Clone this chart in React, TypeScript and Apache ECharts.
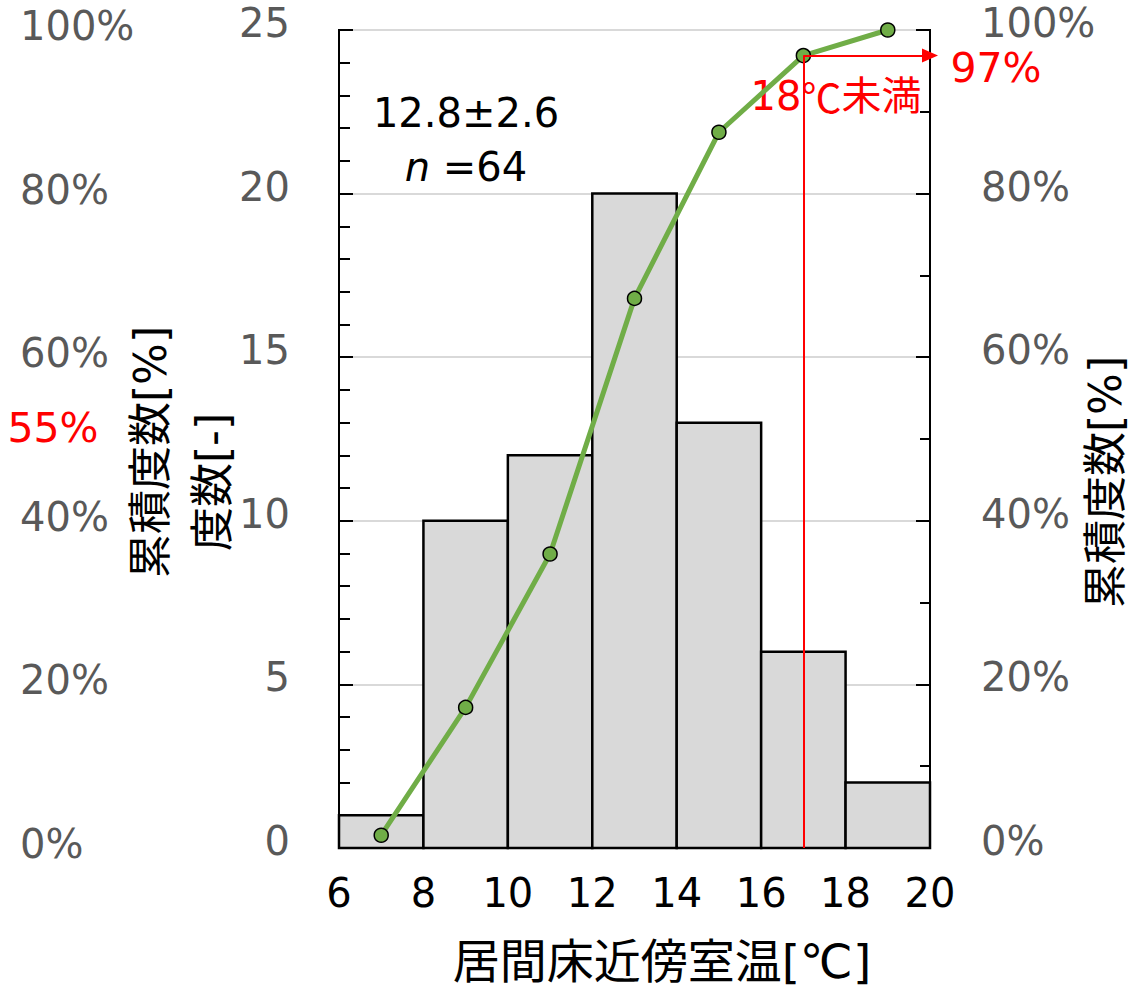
import React, { useEffect, useRef } from "react";
import * as echarts from "echarts";

const binEdges = [6, 8, 10, 12, 14, 16, 18, 20];
const counts = [1, 10, 12, 20, 13, 6, 2];
const cumX = [7, 9, 11, 13, 15, 17, 19];
const cumPct = [1.5625, 17.1875, 35.9375, 67.1875, 87.5, 96.875, 100];
const freqTicks = { min: 0, max: 25, interval: 5 };
const pctTicks = { min: 0, max: 100, interval: 20 };
const thresholdX = 17;
const thresholdPct = 96.875;

const FONT = "'DejaVu Sans', 'Noto Sans CJK JP', sans-serif";
const CJK = "'Noto Sans CJK JP', sans-serif";
const GRAY = "#595959";

const shifted = (pad: number, suffix = "") => ({
  formatter: (v: number) => `{a|${v}${suffix}}`,
  rich: { a: { color: GRAY, fontSize: 40, fontFamily: FONT, padding: [0, 0, pad, 0] } },
});

export default function App() {
  const ref = useRef<HTMLDivElement>(null);
  useEffect(() => {
    if (!ref.current) return;
    const chart = echarts.init(ref.current, undefined, { renderer: "svg" });
    const barData = counts.map((c, i) => [binEdges[i], binEdges[i + 1], c]);
    const lineData = cumX.map((x, i) => [x, cumPct[i]]);
    chart.setOption({
      animation: false,
      textStyle: { fontFamily: FONT },
      grid: {
        left: 339,
        right: 204,
        top: 30,
        bottom: 141,
        show: true,
        borderColor: "#000",
        borderWidth: 2,
        backgroundColor: "transparent",
      },
      xAxis: {
        type: "value",
        min: 6,
        max: 20,
        interval: 2,
        axisLine: { show: true, lineStyle: { color: "#000", width: 2 } },
        axisTick: { show: false },
        splitLine: { show: false },
        axisLabel: { color: "#000", fontSize: 40, fontFamily: FONT, margin: 25 },
      },
      yAxis: [
        {
          type: "value",
          position: "left",
          ...freqTicks,
          axisLine: { show: true, lineStyle: { color: "#000", width: 2 } },
          axisTick: { show: true, inside: true, length: 14, lineStyle: { color: "#000", width: 2 } },
          minorTick: { show: true, splitNumber: 5, length: 11, lineStyle: { color: "#000", width: 2 } },
          splitLine: { show: true, lineStyle: { color: "#d9d9d9", width: 2 } },
          axisLabel: {
            color: GRAY,
            fontSize: 40,
            fontFamily: FONT,
            margin: 49,
            ...shifted(14),
          },
        },
        {
          type: "value",
          position: "left",
          ...pctTicks,
          axisLine: { show: false },
          axisTick: { show: false },
          splitLine: { show: false },
          axisLabel: {
            color: GRAY,
            fontSize: 40,
            fontFamily: FONT,
            margin: 319,
            align: "left",
            ...shifted(8, "%"),
          },
        },
        {
          type: "value",
          position: "right",
          ...pctTicks,
          axisLine: { show: true, lineStyle: { color: "#000", width: 2 } },
          axisTick: { show: true, inside: true, length: 14, lineStyle: { color: "#000", width: 2 } },
          minorTick: { show: true, splitNumber: 2, length: 10, lineStyle: { color: "#000", width: 2 } },
          splitLine: { show: false },
          axisLabel: {
            color: GRAY,
            fontSize: 40,
            fontFamily: FONT,
            margin: 51,
            align: "left",
            ...shifted(14, "%"),
          },
        },
      ],
      series: [
        {
          type: "custom",
          xAxisIndex: 0,
          yAxisIndex: 0,
          data: barData,
          encode: { x: [0, 1], y: 2 },
          renderItem: (params: any, api: any) => {
            const p0 = api.coord([api.value(0), api.value(2)]);
            const p1 = api.coord([api.value(1), 0]);
            return {
              type: "rect",
              shape: { x: p0[0], y: p0[1], width: p1[0] - p0[0], height: p1[1] - p0[1] },
              style: { fill: "#d9d9d9", stroke: "#000", lineWidth: 2.5 },
            };
          },
          z: 2,
        },
        {
          type: "line",
          xAxisIndex: 0,
          yAxisIndex: 1,
          data: lineData,
          clip: false,
          symbol: "circle",
          symbolSize: 14,
          lineStyle: { color: "#70ad47", width: 5 },
          itemStyle: { color: "#70ad47", borderColor: "#000", borderWidth: 1.5 },
          z: 4,
          markLine: {
            silent: true,
            animation: false,
            label: { show: false },
            lineStyle: { color: "#ff0000", width: 2, type: "solid" },
            data: [
              [
                { coord: [thresholdX, 0], symbol: "none" },
                { coord: [thresholdX, thresholdPct], symbol: "none" },
              ],
              [
                { coord: [thresholdX, thresholdPct], symbol: "none" },
                { coord: [20, thresholdPct], symbol: "triangle", symbolSize: [14, 16] },
              ],
            ],
          },
        },
      ],
      graphic: [
        {
          type: "text",
          x: 150,
          y: 452,
          rotation: Math.PI / 2,
          style: { text: "累積度数[%]", font: `44px ${FONT}`, fill: "#000", align: "center", verticalAlign: "middle" },
        },
        {
          type: "text",
          x: 212,
          y: 482,
          rotation: Math.PI / 2,
          style: { text: "度数[-]", font: `44px ${FONT}`, fill: "#000", align: "center", verticalAlign: "middle" },
        },
        {
          type: "text",
          x: 1105,
          y: 482,
          rotation: Math.PI / 2,
          style: { text: "累積度数[%]", font: `44px ${FONT}`, fill: "#000", align: "center", verticalAlign: "middle" },
        },
        {
          type: "text",
          x: 662,
          y: 961,
          style: {
            text: "居間床近傍室温[℃]",
            font: `47px ${FONT}`,
            fill: "#000",
            align: "center",
            verticalAlign: "middle",
          },
        },
        {
          type: "text",
          x: 53,
          y: 428,
          style: { text: "55%", font: `41px ${FONT}`, fill: "#ff0000", align: "center", verticalAlign: "middle" },
        },
        {
          type: "text",
          x: 466,
          y: 113,
          style: { text: "12.8±2.6", font: `40px ${FONT}`, fill: "#000", align: "center", verticalAlign: "middle" },
        },
        {
          type: "text",
          x: 466,
          y: 167,
          style: {
            text: "{i|n} =64",
            font: `40px ${FONT}`,
            fill: "#000",
            align: "center",
            verticalAlign: "middle",
            rich: { i: { fontStyle: "italic", fontSize: 40, fontFamily: FONT, fill: "#000" } },
          },
        },
        {
          type: "text",
          x: 996,
          y: 68,
          style: { text: "97%", font: `41px ${FONT}`, fill: "#ff0000", align: "center", verticalAlign: "middle" },
        },
        {
          type: "text",
          x: 836,
          y: 96,
          style: {
            text: "18{c|℃}未満",
            font: `40px ${FONT}`,
            fill: "#ff0000",
            align: "center",
            verticalAlign: "middle",
            rich: { c: { fontFamily: CJK, fontSize: 40, fill: "#ff0000" } },
          },
        },
      ],
    });
    return () => chart.dispose();
  }, []);
  return (
    <div
      ref={ref}
      style={{ position: "fixed", left: 0, top: 0, width: 1134, height: 989, background: "#fff" }}
    />
  );
}
